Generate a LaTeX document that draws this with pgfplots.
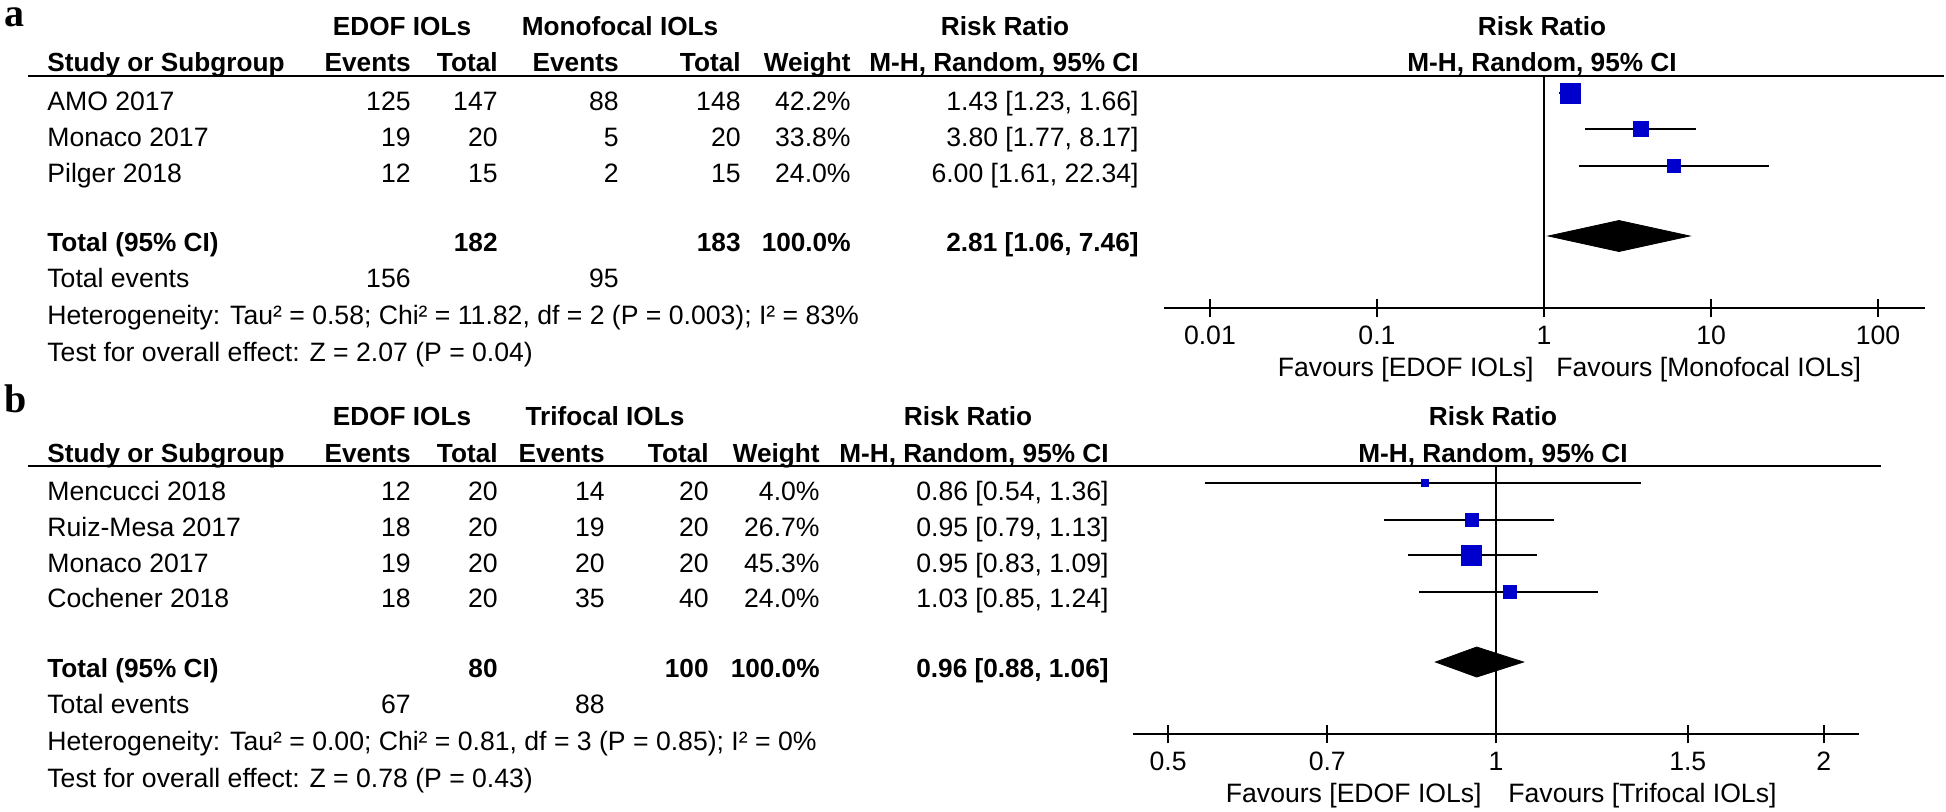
\documentclass[border=0pt]{standalone}
\usepackage{fontspec}
\setmainfont{Liberation Sans}
\newfontfamily\serifb{Liberation Serif}
\usepackage{pgfplots}
\pgfplotsset{compat=1.18}
\definecolor{mk}{RGB}{0,0,204}
\newcommand\fs{\fontsize{13.3}{15}\selectfont}
\newcommand\fb{\fontsize{13.1}{15}\selectfont\bfseries}
\begin{document}
\begin{tikzpicture}[x=0.5pt,y=0.5pt,
  T/.style={inner sep=0pt, font=\fs},
  L/.style={T,anchor=base west}, R/.style={T,anchor=base east}, C/.style={T,anchor=base},
  LB/.style={L,font=\fb}, RB/.style={R,font=\fb}, CB/.style={C,font=\fb}]
\path (0,0) rectangle (1946,-811);
% ---------------- panel a -----------------
\node[inner sep=0pt, anchor=base west, font=\serifb\bfseries\fontsize{20}{22}\selectfont] at (4,-26) {\smash{a}};
\node[CB] at (402,-35) {EDOF IOLs};
\node[CB] at (620,-35) {Monofocal IOLs};
\node[CB] at (1005,-35) {Risk Ratio};
\node[CB] at (1542,-35) {Risk Ratio};
\node[LB] at (47,-71) {Study or Subgroup};
\node[RB] at (411,-71) {Events};
\node[RB] at (498,-71) {Total};
\node[RB] at (619,-71) {Events};
\node[RB] at (741,-71) {Total};
\node[RB] at (851,-71) {Weight};
\node[RB] at (1139,-71) {M-H, Random, 95\% CI};
\node[CB] at (1542,-71) {M-H, Random, 95\% CI};
\draw[line width=1pt] (28,-76) -- (1944,-76);
\node[L] at (47,-110) {AMO 2017};
\node[R] at (411,-110) {125}; \node[R] at (498,-110) {147}; \node[R] at (619,-110) {88}; \node[R] at (741,-110) {148}; \node[R] at (851,-110) {42.2\%}; \node[R] at (1139,-110) {1.43 [1.23, 1.66]};
\node[L] at (47,-146) {Monaco 2017};
\node[R] at (411,-146) {19}; \node[R] at (498,-146) {20}; \node[R] at (619,-146) {5}; \node[R] at (741,-146) {20}; \node[R] at (851,-146) {33.8\%}; \node[R] at (1139,-146) {3.80 [1.77, 8.17]};
\node[L] at (47,-182) {Pilger 2018};
\node[R] at (411,-182) {12}; \node[R] at (498,-182) {15}; \node[R] at (619,-182) {2}; \node[R] at (741,-182) {15}; \node[R] at (851,-182) {24.0\%}; \node[R] at (1139,-182) {6.00 [1.61, 22.34]};
\node[LB] at (47,-251) {Total (95\% CI)};
\node[RB] at (498,-251) {182}; \node[RB] at (741,-251) {183}; \node[RB] at (851,-251) {100.0\%}; \node[RB] at (1139,-251) {2.81 [1.06, 7.46]};
\node[L] at (47,-287) {Total events};
\node[R] at (411,-287) {156}; \node[R] at (619,-287) {95};
\node[L] at (47,-324) {Heterogeneity: Tau² = 0.58; Chi² = 11.82, df = 2 (P = 0.003); I² = 83\%};
\node[L] at (47,-361) {Test for overall effect: Z = 2.07 (P = 0.04)};
\node[R] at (1534,-376) {Favours [EDOF IOLs]};
\node[L] at (1556,-376) {Favours [Monofocal IOLs]};
\begin{axis}[at={(582pt,-154pt)}, anchor=south west, width=380.5pt, height=116pt,
  scale only axis, xmode=log, axis x line=bottom, axis y line=none,
  axis line style={-, line width=1pt}, xminorticks=false, ytick=\empty,
  major tick length=9pt, tick align=center, tick style={black, line width=1pt},
  xticklabel style={inner sep=0pt, font=\fs, anchor=base, yshift=-13.5pt},
  clip=false,
  xmin=0.00531, xmax=191, ymin=-308, ymax=-76,
  xtick={0.01,0.1,1,10,100}, xticklabels={0.01,0.1,1,10,100}]
\draw[line width=0.7pt] (axis cs:1,-76) -- (axis cs:1,-314);
\addplot[black, line width=1pt] coordinates {(1.23,-93) (1.66,-93)};
\addplot[black, line width=1pt] coordinates {(1.77,-129) (8.17,-129)};
\addplot[black, line width=1pt] coordinates {(1.61,-165.5) (22.34,-165.5)};
\addplot[only marks, mark=square*, mark size=5pt, draw=mk, fill=mk] coordinates {(1.43,-93)};
\addplot[only marks, mark=square*, mark size=3.8pt, draw=mk, fill=mk] coordinates {(3.80,-129)};
\addplot[only marks, mark=square*, mark size=3.3pt, draw=mk, fill=mk] coordinates {(6.00,-165.5)};
\addplot[fill=black, draw=black] coordinates {(1.06,-236) (2.81,-220.5) (7.46,-236) (2.81,-251.5)} -- cycle;
\end{axis}
% ---------------- panel b -----------------
\node[inner sep=0pt, anchor=base west, font=\serifb\bfseries\fontsize{20}{22}\selectfont] at (4,-412) {\smash{b}};
\node[CB] at (402,-425) {EDOF IOLs};
\node[CB] at (605,-425) {Trifocal IOLs};
\node[CB] at (968,-425) {Risk Ratio};
\node[CB] at (1493,-425) {Risk Ratio};
\node[LB] at (47,-462) {Study or Subgroup};
\node[RB] at (411,-462) {Events};
\node[RB] at (498,-462) {Total};
\node[RB] at (605,-462) {Events};
\node[RB] at (709,-462) {Total};
\node[RB] at (820,-462) {Weight};
\node[RB] at (1109,-462) {M-H, Random, 95\% CI};
\node[CB] at (1493,-462) {M-H, Random, 95\% CI};
\draw[line width=1pt] (28,-466) -- (1881,-466);
\node[L] at (47,-500) {Mencucci 2018};
\node[R] at (411,-500) {12}; \node[R] at (498,-500) {20}; \node[R] at (605,-500) {14}; \node[R] at (709,-500) {20}; \node[R] at (820,-500) {4.0\%}; \node[R] at (1109,-500) {0.86 [0.54, 1.36]};
\node[L] at (47,-536) {Ruiz-Mesa 2017};
\node[R] at (411,-536) {18}; \node[R] at (498,-536) {20}; \node[R] at (605,-536) {19}; \node[R] at (709,-536) {20}; \node[R] at (820,-536) {26.7\%}; \node[R] at (1109,-536) {0.95 [0.79, 1.13]};
\node[L] at (47,-572) {Monaco 2017};
\node[R] at (411,-572) {19}; \node[R] at (498,-572) {20}; \node[R] at (605,-572) {20}; \node[R] at (709,-572) {20}; \node[R] at (820,-572) {45.3\%}; \node[R] at (1109,-572) {0.95 [0.83, 1.09]};
\node[L] at (47,-607) {Cochener 2018};
\node[R] at (411,-607) {18}; \node[R] at (498,-607) {20}; \node[R] at (605,-607) {35}; \node[R] at (709,-607) {40}; \node[R] at (820,-607) {24.0\%}; \node[R] at (1109,-607) {1.03 [0.85, 1.24]};
\node[LB] at (47,-677) {Total (95\% CI)};
\node[RB] at (498,-677) {80}; \node[RB] at (709,-677) {100}; \node[RB] at (820,-677) {100.0\%}; \node[RB] at (1109,-677) {0.96 [0.88, 1.06]};
\node[L] at (47,-713) {Total events};
\node[R] at (411,-713) {67}; \node[R] at (605,-713) {88};
\node[L] at (47,-750) {Heterogeneity: Tau² = 0.00; Chi² = 0.81, df = 3 (P = 0.85); I² = 0\%};
\node[L] at (47,-787) {Test for overall effect: Z = 0.78 (P = 0.43)};
\node[R] at (1482,-802) {Favours [EDOF IOLs]};
\node[L] at (1508,-802) {Favours [Trifocal IOLs]};
\begin{axis}[at={(566.5pt,-367pt)}, anchor=south west, width=363pt, height=134pt,
  scale only axis, xmode=log, axis x line=bottom, axis y line=none,
  axis line style={-, line width=1pt}, xminorticks=false, ytick=\empty,
  major tick length=9pt, tick align=center, tick style={black, line width=1pt},
  xticklabel style={inner sep=0pt, font=\fs, anchor=base, yshift=-13.5pt},
  clip=false,
  xmin=0.4642, xmax=2.1544, ymin=-734, ymax=-466,
  xtick={0.5,0.7,1,1.5,2}, xticklabels={0.5,0.7,1,1.5,2}]
\draw[line width=0.7pt] (axis cs:1,-466) -- (axis cs:1,-740);
\addplot[black, line width=1pt] coordinates {(0.54,-483) (1.36,-483)};
\addplot[black, line width=1pt] coordinates {(0.79,-520) (1.13,-520)};
\addplot[black, line width=1pt] coordinates {(0.83,-555) (1.09,-555)};
\addplot[black, line width=1pt] coordinates {(0.85,-592) (1.24,-592)};
\addplot[only marks, mark=square*, mark size=1.75pt, draw=mk, fill=mk] coordinates {(0.86,-483)};
\addplot[only marks, mark=square*, mark size=3.4pt, draw=mk, fill=mk] coordinates {(0.95,-520)};
\addplot[only marks, mark=square*, mark size=5pt, draw=mk, fill=mk] coordinates {(0.95,-555)};
\addplot[only marks, mark=square*, mark size=3.25pt, draw=mk, fill=mk] coordinates {(1.03,-592)};
\addplot[fill=black, draw=black] coordinates {(0.88,-662) (0.96,-647) (1.06,-662) (0.96,-677)} -- cycle;
\end{axis}
\end{tikzpicture}
\end{document}
